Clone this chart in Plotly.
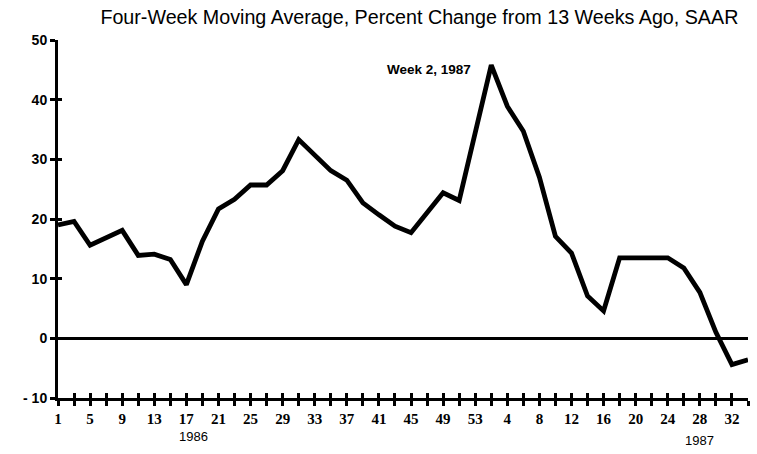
import plotly.graph_objects as go

# ---- data ----
weeks_1986 = [1, 3, 5, 7, 9, 11, 13, 15, 17, 19, 21, 23, 25, 27, 29, 31, 33, 35,
              37, 39, 41, 43, 45, 47, 49, 51, 53]
values_1986 = [19.0, 19.6, 15.6, 16.9, 18.1, 13.9, 14.1, 13.2, 9.0, 16.3, 21.7,
               23.3, 25.7, 25.7, 28.1, 33.3, 30.8, 28.1, 26.5, 22.7, 20.7, 18.8,
               17.7, 21.0, 24.4, 23.1, 34.7]
weeks_1987 = [2, 4, 6, 8, 10, 12, 14, 16, 18, 20, 22, 24, 26, 28, 30, 32, 34]
values_1987 = [45.8, 38.9, 34.7, 27.0, 17.1, 14.3, 7.1, 4.6, 13.5, 13.5, 13.5,
               13.5, 11.8, 7.7, 1.0, -4.4, -3.6]

tick_weeks_1986 = [1, 5, 9, 13, 17, 21, 25, 29, 33, 37, 41, 45, 49, 53]
tick_weeks_1987 = [4, 8, 12, 16, 20, 24, 28, 32]
minor_weeks_1986 = [3, 7, 11, 15, 19, 23, 27, 31, 35, 39, 43, 47, 51]
minor_weeks_1987 = [2, 6, 10, 14, 18, 22, 26, 30, 34]
y_ticks = [-10, 0, 10, 20, 30, 40, 50]
y_ticktext = ["- 10", "0", "10", "20", "30", "40", "50"]

title_text = "Four-Week Moving Average, Percent Change from 13 Weeks Ago, SAAR"
peak_label = "Week 2, 1987"

WEEKS_IN_1986 = 53


def pos86(w):
    return w - 1


def pos87(w):
    return WEEKS_IN_1986 - 1 + w


x_vals = [pos86(w) for w in weeks_1986] + [pos87(w) for w in weeks_1987]
y_vals = values_1986 + values_1987

tickvals = ([pos86(w) for w in tick_weeks_1986] + [pos87(w) for w in tick_weeks_1987]
            + [pos86(w) for w in minor_weeks_1986] + [pos87(w) for w in minor_weeks_1987])
ticktext = ([str(w) for w in tick_weeks_1986] + [str(w) for w in tick_weeks_1987]
            + ["" for _ in minor_weeks_1986] + ["" for _ in minor_weeks_1987])

x_range = [0, pos87(34)]
y_range = [-10, 50]

fig = go.Figure()
fig.add_trace(go.Scatter(x=x_vals, y=y_vals, mode="lines",
                         line=dict(color="black", width=4.8),
                         hoverinfo="skip", showlegend=False))
# helper trace so the overlay axes (inner half of the crossing ticks) are drawn
fig.add_trace(go.Scatter(x=[x_vals[0]], y=[y_vals[0]], xaxis="x2", yaxis="y2",
                         mode="lines", line=dict(width=0), hoverinfo="skip",
                         showlegend=False))

serif_bold = dict(family="Liberation Serif, Times New Roman, serif", size=15,
                  color="black", weight="bold")
sans_bold = dict(family="Liberation Sans, Arial, sans-serif", size=14,
                 color="black", weight="bold")

fig.update_layout(
    width=757, height=454,
    margin=dict(l=58, r=9, t=40, b=56),
    paper_bgcolor="white", plot_bgcolor="white",
    title=dict(text=title_text, x=0.554, xanchor="center", y=0.963, yanchor="middle",
               font=dict(family="Liberation Sans, Arial, sans-serif", size=19.7,
                         color="black")),
    xaxis=dict(range=x_range, tickmode="array", tickvals=tickvals, ticktext=ticktext,
               ticks="outside", ticklen=5, tickwidth=3, tickcolor="black",
               showline=True, linewidth=3, linecolor="black", showgrid=False,
               zeroline=False, tickfont=serif_bold, anchor="y"),
    yaxis=dict(range=y_range, tickmode="array", tickvals=y_ticks, ticktext=y_ticktext,
               ticks="outside", ticklen=5, tickwidth=3, tickcolor="black",
               showline=True, linewidth=3, linecolor="black", showgrid=False,
               zeroline=True, zerolinecolor="black", zerolinewidth=2.5,
               tickfont=sans_bold, anchor="x"),
    xaxis2=dict(range=x_range, overlaying="x", anchor="y2", side="bottom",
                tickmode="array", tickvals=tickvals, showticklabels=False,
                ticks="inside", ticklen=5, tickwidth=3, tickcolor="black",
                showline=False, showgrid=False, zeroline=False),
    yaxis2=dict(range=y_range, overlaying="y", anchor="x2", side="left",
                tickmode="array", tickvals=y_ticks, showticklabels=False,
                ticks="inside", ticklen=4, tickwidth=3, tickcolor="black",
                showline=False, showgrid=False, zeroline=False),
    annotations=[
        dict(text=peak_label, x=pos87(2), y=values_1987[0], xref="x", yref="y",
             xanchor="right", yanchor="middle", xshift=-18, yshift=-4, showarrow=False,
             font=dict(family="Liberation Sans, Arial, sans-serif", size=13.5,
                       color="black", weight="bold")),
        dict(text="1986", x=pos86(17), y=-0.108, xref="x", yref="paper",
             xanchor="center", yanchor="middle", xshift=7, showarrow=False,
             font=dict(family="Liberation Sans, Arial, sans-serif", size=13,
                       color="black")),
        dict(text="1987", x=pos87(28), y=-0.12, xref="x", yref="paper",
             xanchor="center", yanchor="middle", showarrow=False,
             font=dict(family="Liberation Sans, Arial, sans-serif", size=13,
                       color="black")),
    ],
)

fig.write_html("out.html", config={"displayModeBar": False},
               post_script="document.body.style.margin='0px';document.body.style.overflow='hidden';")
